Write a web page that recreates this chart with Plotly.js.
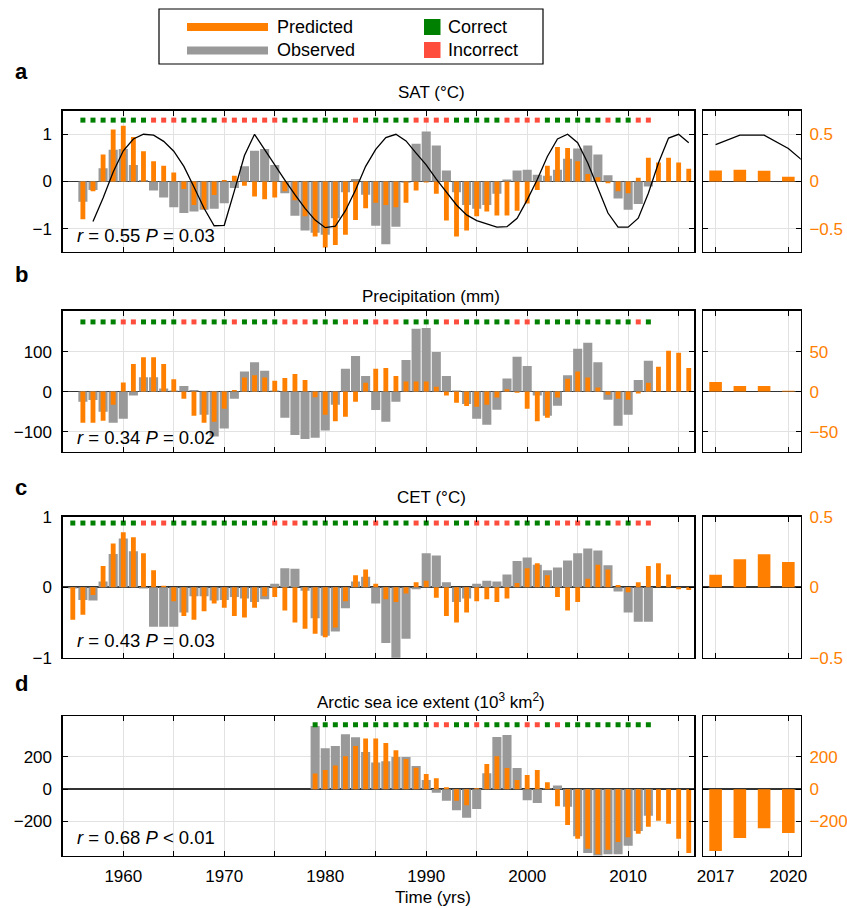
<!DOCTYPE html>
<html><head><meta charset="utf-8">
<script src="https://cdn.plot.ly/plotly-3.0.1.min.js"></script>
<style>html,body{margin:0;padding:0;background:#fff}#chart{width:847px;height:908px}</style>
</head><body><div id="chart"></div>
<script>
// ---------------- DATA ----------------
// SAT (°C)
const satStart = 1956;
const satObserved = [-0.43,-0.18,0.28,0.67,0.69,0.35,0.03,-0.19,-0.34,-0.55,
  -0.67,-0.64,-0.60,-0.58,-0.46,-0.14,0.32,0.65,0.69,0.35,
  -0.25,-0.73,-1.04,-1.09,-1.13,-0.78,-0.23,0.05,-0.28,-0.94,
  -1.33,-0.96,-0.03,0.80,1.06,0.76,0.23,-0.23,-0.50,-0.58,
  -0.50,-0.26,0.04,0.23,0.25,0.14,0.12,0.25,0.48,0.70,
  0.76,0.57,0.13,-0.36,-0.60,-0.48,-0.11];
const satPredicted = [-0.80,-0.21,0.57,1.10,1.18,0.94,0.64,0.43,0.33,0.19,
  -0.16,-0.50,-0.59,-0.29,0.03,0.12,-0.09,-0.32,-0.38,-0.34,
  -0.21,-0.40,-0.74,-1.17,-1.40,-1.35,-1.13,-0.82,-0.57,-0.45,
  -0.50,-0.55,-0.45,-0.19,-0.02,-0.26,-0.83,-1.17,-1.04,-0.74,
  -0.64,-0.72,-0.72,-0.62,-0.47,-0.18,0.33,0.73,0.71,0.43,
  0.16,0.09,-0.04,-0.21,-0.25,0.08,0.50,0.40,0.50,0.40,0.27];
const satFitStart = 1957;
const satFit = [-0.85,-0.35,0.2,0.65,0.9,1.0,0.98,0.85,0.64,0.32,
  -0.12,-0.57,-0.94,-0.93,-0.2,0.55,1.0,0.67,0.35,0.03,
  -0.28,-0.57,-0.82,-0.98,-0.95,-0.62,-0.18,0.32,0.68,0.93,
  1.0,0.86,0.6,0.35,0.05,-0.23,-0.5,-0.71,-0.83,-0.9,
  -0.97,-0.96,-0.78,-0.39,0.04,0.53,0.9,1.0,0.82,0.39,
  -0.14,-0.67,-0.97,-0.97,-0.78,-0.25,0.39,0.92,1.0,0.82];
const satHit = [1,1,1,1,1,1,1,0,0,0, 1,1,1,1,0,0,0,0,0,0,
  1,1,1,1,1,1,1,0,1,1, 1,1,1,0,0,0,0,1,1,1, 1,1,0,0,0,0,1,1,1,1,
  1,1,0,1,1,0,0];
const futureYears = [2017,2018,2019,2020];
const satFuture = [0.116,0.123,0.113,0.05];
const satFitFutureYears = [2017,2018,2019,2020,2021];
const satFitFuture = [0.39,0.49,0.49,0.35,0.13];

// Precipitation (mm)
const preStart = 1956;
const preObserved = [-25,-21,-50,-78,-68,-10,36,36,8,3,
  14,4,-58,-112,-92,-18,50,73,52,3,
  -65,-108,-118,-115,-97,-33,57,89,39,-46,
  -75,-25,79,157,159,99,39,3,-31,-68,
  -83,-45,33,87,64,-10,-60,-35,41,107,
  122,73,-20,-85,-58,29,77];
const prePredicted = [-78,-78,-73,-33,23,69,86,86,69,31,
  -18,-60,-78,-75,-43,4,35,41,35,27,
  34,44,29,-14,-58,-74,-63,-25,22,57,
  59,39,25,25,25,12,-10,-28,-36,-38,
  -33,-15,6,-3,-43,-74,-65,-15,32,50,
  35,10,-8,-18,-20,-5,22,62,102,97,59];
const preHit = [1,1,1,1,0,0,1,1,1,1, 0,0,1,1,1,0,1,1,1,1,
  0,0,0,1,1,1,0,0,1,0, 0,0,1,1,1,1,0,0,1,1, 1,1,1,0,0,1,1,1,1,1,
  1,1,1,1,1,0,1];
const preFuture = [12,7,7,1];

// CET (°C)
const cetStart = 1955;
const cetObserved = [-0.02,-0.18,-0.19,0.08,0.47,0.69,0.51,-0.02,-0.56,-0.56,
  -0.56,-0.36,-0.13,-0.13,-0.19,-0.18,-0.14,-0.16,-0.21,-0.17,
  0.05,0.27,0.26,-0.05,-0.44,-0.69,-0.63,-0.30,0.08,0.15,
  -0.23,-0.79,-1.05,-0.73,-0.03,0.48,0.45,0.07,-0.21,-0.16,
  0.05,0.09,0.08,0.18,0.37,0.42,0.32,0.24,0.28,0.38,
  0.48,0.55,0.52,0.31,-0.06,-0.36,-0.49,-0.49];
const cetPredicted = [-0.46,-0.39,-0.11,0.30,0.62,0.78,0.71,0.48,0.24,0.02,
  -0.20,-0.41,-0.46,-0.34,-0.23,-0.29,-0.41,-0.43,-0.29,-0.13,
  -0.14,-0.33,-0.50,-0.59,-0.66,-0.71,-0.57,-0.20,0.17,0.25,
  0.05,-0.17,-0.21,-0.09,0.07,0.09,-0.15,-0.41,-0.50,-0.36,
  -0.20,-0.17,-0.21,-0.16,0.06,0.27,0.34,0.17,-0.14,-0.33,
  -0.21,0.12,0.32,0.25,0.03,-0.07,0.07,0.30,0.34,0.18,-0.03,-0.04];
const cetHit = [1,1,1,1,1,1,1,0,0,0, 1,1,1,1,1,1,1,1,1,1,
  0,0,0,1,1,1,1,1,1,1, 0,1,1,1,0,1,0,0,1,1, 0,0,0,0,1,1,1,1,0,0,
  0,1,1,1,0,1,0,0];
const cetFuture = [0.089,0.198,0.234,0.179];

// Arctic sea ice extent (10^3 km^2)
const iceStart = 1979;
const iceObserved = [390,252,266,340,320,229,165,173,198,198,
  143,56,-23,-72,-130,-177,-122,99,322,334,
  130,-68,-85,5,23,-109,-291,-394,-420,-402,
  -402,-350,-258,-165];
const icePredicted = [97,118,146,204,266,313,313,285,241,186,
  132,93,68,12,-72,-99,6,155,204,130,
  56,87,118,43,-105,-221,-307,-369,-402,-375,
  -326,-297,-276,-233,-196,-214,-307,-394];
const iceHit = [1,1,1,1,1,1,1,1,1,1, 1,1,0,0,1,1,0,1,1,1,
  1,0,0,1,0,1,1,1,1,1, 1,1,1,1];
const iceFuture = [-382,-302,-241,-271];

// tick labels
const decadeTicks = [1960,1970,1980,1990,2000,2010];
const decadeLabels = ['1960','1970','1980','1990','2000','2010'];
const halfDecadeTicks = [1965,1975,1985,1995,2005,2015];
const futureTickVals = [2017,2020];
const futureTickText = ['2017','2020'];

// ---------------- STYLE / LAYOUT ----------------
const W = 847, H = 908;
const px = x => x / W, py = y => 1 - y / H;
const ORANGE = '#FF8000', GRAY = '#999999', GREEN = '#008000', RED = '#FF4D3D';
const FONT = 'Liberation Sans, Arial, Helvetica, sans-serif';
function yrs(start, n) { const a = []; for (let i = 0; i < n; i++) a.push(start + i); return a; }

const panels = [
  {obs: satObserved, pred: satPredicted, start: satStart, hit: satHit, dotY: 1.3,
   fut: satFuture, yr: [-1.49, 1.5], yt: [-1, 0, 1], ryr: [-0.745, 0.75], ryt: [-0.5, 0, 0.5],
   top: 110.7, bot: 251.7, title: 'SAT (°C)', titleY: 93, letter: 'a', letterY: 72,
   stat: '<i>r</i> = 0.55 <i>P</i> = 0.03', statY: 235},
  {obs: preObserved, pred: prePredicted, start: preStart, hit: preHit, dotY: 174,
   fut: preFuture, yr: [-150, 202], yt: [-100, 0, 100], ryr: [-75, 101], ryt: [-50, 0, 50],
   top: 310.7, bot: 451.7, title: 'Precipitation (mm)', titleY: 296, letter: 'b', letterY: 275,
   stat: '<i>r</i> = 0.34 <i>P</i> = 0.02', statY: 437},
  {obs: cetObserved, pred: cetPredicted, start: cetStart, hit: cetHit, dotY: 0.91,
   fut: cetFuture, yr: [-1, 1], yt: [-1, 0, 1], ryr: [-0.5, 0.5], ryt: [-0.5, 0, 0.5],
   top: 516.7, bot: 657.7, title: 'CET (°C)', titleY: 497, letter: 'c', letterY: 488,
   stat: '<i>r</i> = 0.43 <i>P</i> = 0.03', statY: 640},
  {obs: iceObserved, pred: icePredicted, start: iceStart, hit: iceHit, dotY: 398,
   fut: iceFuture, yr: [-410, 452], yt: [-200, 0, 200], ryr: [-410, 452], ryt: [-200, 0, 200],
   top: 716, bot: 855.5, title: 'Arctic sea ice extent (10<sup>3</sup> km<sup>2</sup>)', titleY: 701, letter: 'd', letterY: 683,
   stat: '<i>r</i> = 0.68 <i>P</i> < 0.01', statY: 837}
];

const traces = [];
const layout = {
  width: W, height: H, margin: {l: 0, r: 0, t: 0, b: 0},
  paper_bgcolor: '#fff', plot_bgcolor: '#fff', showlegend: false, barmode: 'overlay',
  font: {family: FONT, size: 17, color: '#000'},
  shapes: [], annotations: []
};

const GRID = '#e2e2e2';
const axCommon = {
  ticks: 'inside', ticklen: 5, tickwidth: 1, tickcolor: '#000',
  showline: true, linecolor: '#000', linewidth: 1.3, mirror: 'ticks',
  showgrid: true, gridcolor: GRID, gridwidth: 1, fixedrange: true,
  tickfont: {family: FONT, size: 17, color: '#000'}
};

panels.forEach((p, k) => {
  const mx = k === 0 ? 'x' : 'x' + (2 * k + 1), my = k === 0 ? 'y' : 'y' + (2 * k + 1);
  const rx = 'x' + (2 * k + 2), ry = 'y' + (2 * k + 2);
  const mxKey = 'xaxis' + (k === 0 ? '' : 2 * k + 1), myKey = 'yaxis' + (k === 0 ? '' : 2 * k + 1);
  const rxKey = 'xaxis' + (2 * k + 2), ryKey = 'yaxis' + (2 * k + 2);
  const last = k === 3;
  const ydom = [py(p.bot), py(p.top)];

  layout[mxKey] = Object.assign({}, axCommon, {
    domain: [px(62.7), px(694.3)], range: [1954.0, 2016.55], anchor: my,
    tickmode: 'array', tickvals: decadeTicks, ticktext: decadeLabels,
    minor: {tickmode: 'array', tickvals: halfDecadeTicks, ticks: 'inside', ticklen: 5, tickwidth: 1,
            tickcolor: '#000', showgrid: true, gridcolor: GRID, gridwidth: 1},
    showticklabels: last, zeroline: false, ticklabelstandoff: 5
  });
  layout[myKey] = Object.assign({}, axCommon, {
    domain: ydom, range: p.yr, anchor: mx, tickmode: 'array', tickvals: p.yt,
    zeroline: true, zerolinecolor: '#333', zerolinewidth: 1.6, ticklabelstandoff: 6
  });
  layout[rxKey] = Object.assign({}, axCommon, {
    domain: [px(703), px(800.7)], range: [2016.48, 2020.51], anchor: ry,
    tickmode: 'array', tickvals: futureTickVals, ticktext: futureTickText,
    showticklabels: last, zeroline: false, ticklabelstandoff: 5
  });
  layout[ryKey] = Object.assign({}, axCommon, {
    domain: ydom, range: p.ryr, anchor: rx, side: 'right', tickmode: 'array', tickvals: p.ryt,
    zeroline: true, zerolinecolor: '#333', zerolinewidth: 1.6, ticklabelstandoff: 4,
    tickfont: {family: FONT, size: 17, color: ORANGE}
  });

  traces.push({type: 'bar', x: yrs(p.start, p.obs.length), y: p.obs,
    width: 0.9, marker: {color: GRAY, line: {width: 0}}, xaxis: mx, yaxis: my, hoverinfo: 'skip'});
  traces.push({type: 'bar', x: yrs(p.start, p.pred.length), y: p.pred,
    width: 0.48, marker: {color: ORANGE, line: {width: 0}}, xaxis: mx, yaxis: my, hoverinfo: 'skip'});
  traces.push({type: 'scatter', mode: 'markers', x: yrs(p.start, p.hit.length), y: p.hit.map(() => p.dotY),
    marker: {symbol: 'square', size: 5, color: p.hit.map(h => h ? GREEN : RED), line: {width: 0}},
    xaxis: mx, yaxis: my, hoverinfo: 'skip', cliponaxis: false});
  traces.push({type: 'bar', x: futureYears, y: p.fut, width: 0.52,
    marker: {color: ORANGE, line: {width: 0}}, xaxis: rx, yaxis: ry, hoverinfo: 'skip'});

  if (k === 0) {
    traces.push({type: 'scatter', mode: 'lines', x: yrs(satFitStart, satFit.length), y: satFit,
      line: {color: '#000', width: 1.3}, xaxis: mx, yaxis: my, hoverinfo: 'skip'});
    traces.push({type: 'scatter', mode: 'lines', x: satFitFutureYears, y: satFitFuture,
      line: {color: '#000', width: 1.3}, xaxis: rx, yaxis: ry, hoverinfo: 'skip'});
  }

  layout.annotations.push({xref: 'paper', yref: 'paper', x: px(431), y: py(p.titleY), text: p.title,
    showarrow: false, xanchor: 'center', yanchor: 'middle', font: {family: FONT, size: 17, color: '#000'}});
  layout.annotations.push({xref: 'paper', yref: 'paper', x: px(13), y: py(p.letterY), text: '<b>' + p.letter + '</b>',
    showarrow: false, xanchor: 'left', yanchor: 'middle', font: {family: FONT, size: 22, color: '#000'}});
  layout.annotations.push({xref: 'paper', yref: 'paper', x: px(75), y: py(p.statY), text: p.stat,
    showarrow: false, xanchor: 'left', yanchor: 'middle', font: {family: FONT, size: 18.5, color: '#000'}});
});

layout.annotations.push({xref: 'paper', yref: 'paper', x: px(433), y: py(897), text: 'Time (yrs)',
  showarrow: false, xanchor: 'center', yanchor: 'middle', font: {family: FONT, size: 17, color: '#000'}});

// legend (drawn manually)
const P = (x0, y0, x1, y1) => ({x0: px(x0), x1: px(x1), y0: py(y1), y1: py(y0)});
layout.shapes.push(Object.assign({type: 'rect', xref: 'paper', yref: 'paper', line: {color: '#000', width: 1.2}, fillcolor: 'rgba(0,0,0,0)'}, P(159, 9, 543, 64)));
layout.shapes.push(Object.assign({type: 'rect', xref: 'paper', yref: 'paper', line: {width: 0}, fillcolor: ORANGE}, P(187, 23, 268, 31)));
layout.shapes.push(Object.assign({type: 'rect', xref: 'paper', yref: 'paper', line: {width: 0}, fillcolor: GRAY}, P(187, 46.5, 268, 54.5)));
layout.shapes.push(Object.assign({type: 'rect', xref: 'paper', yref: 'paper', line: {width: 0}, fillcolor: GREEN}, P(424, 19, 440.5, 35)));
layout.shapes.push(Object.assign({type: 'rect', xref: 'paper', yref: 'paper', line: {width: 0}, fillcolor: RED}, P(424, 42, 440.5, 58)));
[['Predicted', 275, 27], ['Observed', 275, 50], ['Correct', 446, 27], ['Incorrect', 446, 50]].forEach(t => {
  layout.annotations.push({xref: 'paper', yref: 'paper', x: px(t[1]), y: py(t[2]), text: t[0],
    showarrow: false, xanchor: 'left', yanchor: 'middle', font: {family: FONT, size: 18, color: '#000'}});
});

Plotly.newPlot('chart', traces, layout, {staticPlot: true, displayModeBar: false});
</script>
</body></html>
